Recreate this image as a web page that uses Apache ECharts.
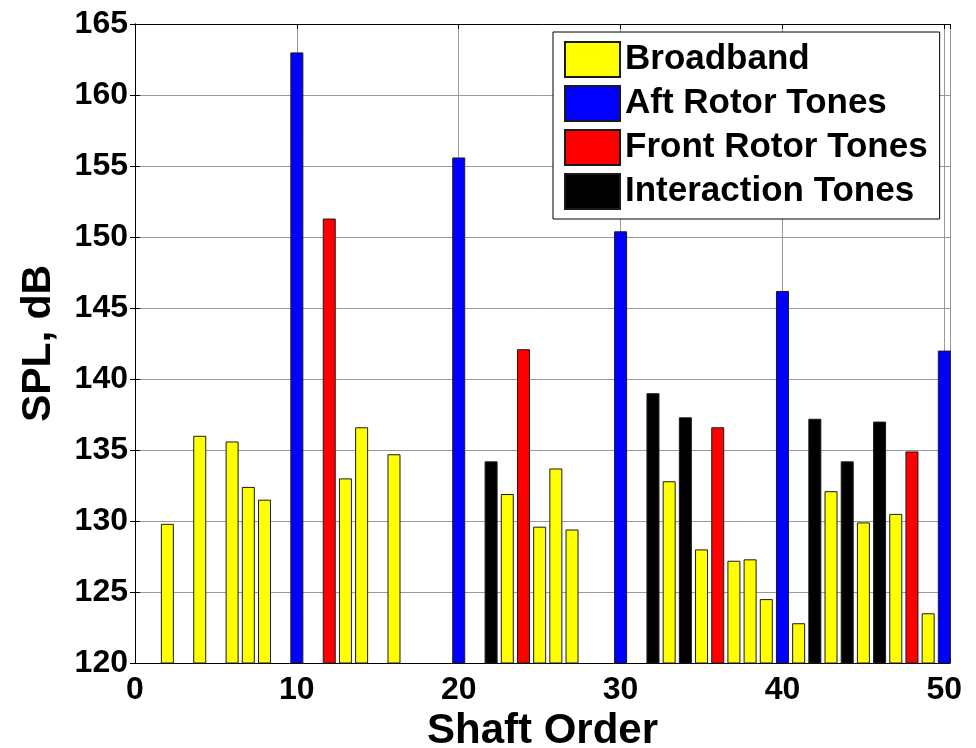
<!DOCTYPE html>
<html>
<head>
<meta charset="utf-8">
<title>SPL by Shaft Order</title>
<script src="https://cdn.jsdelivr.net/npm/echarts@6/dist/echarts.min.js"></script>
<style>
  html, body { margin: 0; padding: 0; background: #fff; }
  #chart { width: 976px; height: 748px; }
</style>
</head>
<body>
<div id="chart"></div>
<script>
// Shaft orders and sound pressure levels (dB) for each tone family
const broadbandOrders = [2, 4, 6, 7, 8, 13, 14, 16, 23, 25, 26, 27, 33, 35, 37, 38, 39, 41, 43, 45, 47, 49];
const broadbandSPL    = [129.8, 136.0, 135.6, 132.4, 131.5, 133.0, 136.6, 134.7, 131.9, 129.6, 133.7, 129.4,
                         132.8, 128.0, 127.2, 127.3, 124.5, 122.8, 132.1, 129.9, 130.5, 123.5];

const aftOrders = [10, 20, 30, 40, 50];
const aftSPL    = [163.0, 155.6, 150.4, 146.2, 142.0];

const frontOrders = [12, 24, 36, 48];
const frontSPL    = [151.3, 142.1, 136.6, 134.9];

const interactionOrders = [22, 32, 34, 42, 44, 46];
const interactionSPL    = [134.2, 139.0, 137.3, 137.2, 134.2, 137.0];

const seriesNames = ['Broadband', 'Aft Rotor Tones', 'Front Rotor Tones', 'Interaction Tones'];
const yTicks = { min: 120, max: 165, step: 5 };
const xTicks = { min: 0, max: 50.35, step: 10 };

const FONT = '"Liberation Sans", Arial, sans-serif';

function pairs(xs, ys) {
  return xs.map((x, i) => [x, ys[i]]);
}

function barSeries(name, color, data) {
  return {
    name: name,
    type: 'bar',
    data: data,
    barWidth: 13,
    barGap: '-100%',
    itemStyle: { color: color, borderColor: '#1a1a1a', borderWidth: 1 },
    emphasis: { disabled: true }
  };
}

const chart = echarts.init(document.getElementById('chart'), null, { renderer: 'canvas' });

const tickLabelStyle = {
  fontFamily: FONT, fontWeight: 'bold', fontSize: 32, color: '#000'
};

chart.setOption({
  animation: false,
  backgroundColor: '#fff',
  grid: { left: 135, right: 26, top: 24, bottom: 85, containLabel: false, outerBoundsMode: 'none' },
  legend: {
    orient: 'vertical',
    left: 553,
    top: 32,
    data: seriesNames,
    icon: 'rect',
    itemWidth: 55,
    itemHeight: 35,
    itemGap: 7,
    itemTextGap: 11,
    padding: [9, 12, 9, 11],
    borderColor: '#000',
    borderWidth: 1,
    backgroundColor: '#fff',
    selectedMode: false,
    textStyle: { fontFamily: FONT, fontWeight: 'bold', fontSize: 35, color: '#000' }
  },
  xAxis: [
    {
      type: 'value',
      min: xTicks.min, max: xTicks.max, interval: xTicks.step,
      name: 'Shaft Order',
      nameLocation: 'middle',
      nameGap: 35,
      nameTextStyle: { fontFamily: FONT, fontWeight: 'bold', fontSize: 42, color: '#000' },
      axisLine: { show: true, lineStyle: { color: '#000', width: 1 } },
      axisTick: { show: true, inside: true, length: 5, lineStyle: { color: '#000' } },
      axisLabel: Object.assign({
        margin: 11,
        showMaxLabel: true,
        formatter: v => (Math.abs(v % 10) < 1e-9 ? String(v) : '')
      }, tickLabelStyle),
      splitLine: { show: true, lineStyle: { color: '#999', width: 1 } }
    },
    {
      type: 'value', position: 'top',
      min: xTicks.min, max: xTicks.max, interval: xTicks.step,
      axisLine: { show: true, lineStyle: { color: '#000', width: 1 } },
      axisTick: { show: true, inside: true, length: 5, lineStyle: { color: '#000' } },
      axisLabel: { show: false },
      splitLine: { show: false }
    }
  ],
  yAxis: [
    {
      type: 'value',
      min: yTicks.min, max: yTicks.max, interval: yTicks.step,
      name: 'SPL, dB',
      nameLocation: 'middle',
      nameGap: 76,
      nameTextStyle: { fontFamily: FONT, fontWeight: 'bold', fontSize: 41, color: '#000' },
      axisLine: { show: true, lineStyle: { color: '#000', width: 1 } },
      axisTick: { show: true, inside: true, length: 5, lineStyle: { color: '#000' } },
      axisLabel: Object.assign({ margin: 7 }, tickLabelStyle),
      splitLine: { show: true, lineStyle: { color: '#999', width: 1 } }
    },
    {
      type: 'value', position: 'right',
      min: yTicks.min, max: yTicks.max, interval: yTicks.step,
      axisLine: { show: true, lineStyle: { color: '#000', width: 1 } },
      axisTick: { show: true, inside: true, length: 5, lineStyle: { color: '#000' } },
      axisLabel: { show: false },
      splitLine: { show: false }
    }
  ],
  series: [
    barSeries(seriesNames[0], '#ffff00', pairs(broadbandOrders, broadbandSPL)),
    barSeries(seriesNames[1], '#0000ff', pairs(aftOrders, aftSPL)),
    barSeries(seriesNames[2], '#ff0000', pairs(frontOrders, frontSPL)),
    barSeries(seriesNames[3], '#000000', pairs(interactionOrders, interactionSPL))
  ]
});
</script>
</body>
</html>
